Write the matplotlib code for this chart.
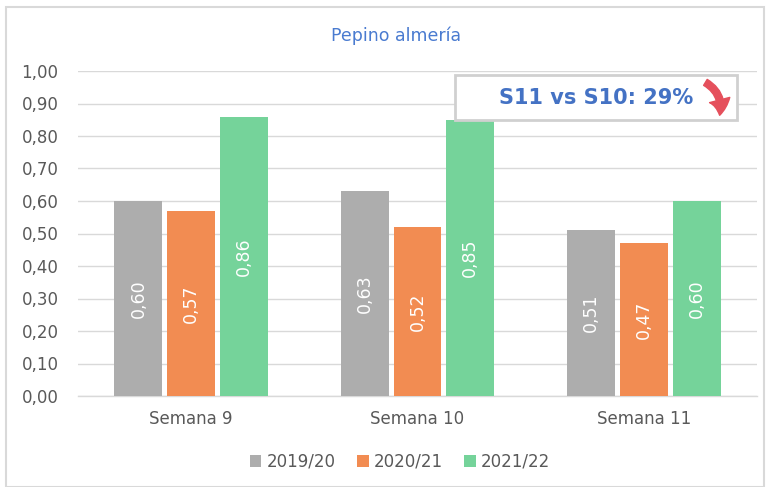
import matplotlib
matplotlib.use("Agg")
import matplotlib.pyplot as plt
from matplotlib.patches import Rectangle, FancyArrowPatch
import numpy as np

categories = ["Semana 9", "Semana 10", "Semana 11"]
series_names = ["2019/20", "2020/21", "2021/22"]
v2019 = [0.60, 0.63, 0.51]
v2020 = [0.57, 0.52, 0.47]
v2021 = [0.86, 0.85, 0.60]
colors = ["#ADADAD", "#F28C52", "#75D39A"]
title = "Pepino almería"
note = "S11 vs S10: 29%"

plt.rcParams['font.family'] = ['DejaVu Sans']
fig = plt.figure(figsize=(7.69, 4.87), dpi=100)
W, H = 769, 487
ax = fig.add_axes([78 / W, 1 - 396 / H, (757 - 78) / W, (396 - 71) / H])

x = np.arange(len(categories))
width = 0.212
offset = 0.233
data = [v2019, v2020, v2021]
for i, (vals, name, c) in enumerate(zip(data, series_names, colors)):
    bars = ax.bar(x + (i - 1) * offset, vals, width, color=c, label=name, zorder=3)
    for b, v in zip(bars, vals):
        ax.text(b.get_x() + b.get_width() / 2, v / 2, f"{v:.2f}".replace(".", ","),
                rotation=90, ha="center", va="center", color="white",
                fontsize=12.5, zorder=4)

ax.set_xlim(-0.5, 2.5)
ax.set_ylim(0, 1.0)
ax.set_yticks(np.arange(0, 1.01, 0.1))
ax.set_yticklabels([f"{t:.2f}".replace(".", ",") for t in np.arange(0, 1.01, 0.1)])
ax.set_xticks(x)
ax.set_xticklabels(categories)
ax.grid(axis="y", color="#D9D9D9", linewidth=1, zorder=0)
for s in ["top", "right", "left"]:
    ax.spines[s].set_visible(False)
ax.spines["bottom"].set_color("#D9D9D9")
ax.spines["bottom"].set_linewidth(1)
ax.tick_params(axis="both", length=0, colors="#595959", labelsize=12, pad=14)
ax.tick_params(axis="x", pad=10)

fig.text(396 / W, 1 - 36 / H, title, ha="center", va="center", color="#4A7BD0", fontsize=12.5)

leg = fig.legend(loc="center", bbox_to_anchor=(400 / W, 1 - 462 / H), ncol=3, frameon=False,
                 fontsize=12, handlelength=0.7, handleheight=0.7, columnspacing=1.3,
                 handletextpad=0.3, labelcolor="#595959")

# annotation box
fig.patches.append(Rectangle((455 / W, 1 - 120 / H), (737 - 455) / W, 45 / H,
                             transform=fig.transFigure, facecolor="white",
                             edgecolor="#D0D0D0", linewidth=2, zorder=5))
fig.text(596 / W, 1 - 98 / H, note, ha="center", va="center", color="#4472C4",
         fontsize=15, fontweight="bold", zorder=6)
arr = FancyArrowPatch((703 / W, 1 - 81 / H), (719 / W, 1 - 118 / H),
                      transform=fig.transFigure, connectionstyle="arc3,rad=-0.4",
                      arrowstyle="simple,head_width=15,head_length=11,tail_width=5",
                      color="#E5505C", zorder=7)
fig.patches.append(arr)

# outer border
fig.patches.append(Rectangle((6 / W, 0), (764 - 6) / W, 1 - 7 / H, transform=fig.transFigure,
                             facecolor="none", edgecolor="#D9D9D9", linewidth=1.5))

fig.savefig("out.png", dpi=100)
